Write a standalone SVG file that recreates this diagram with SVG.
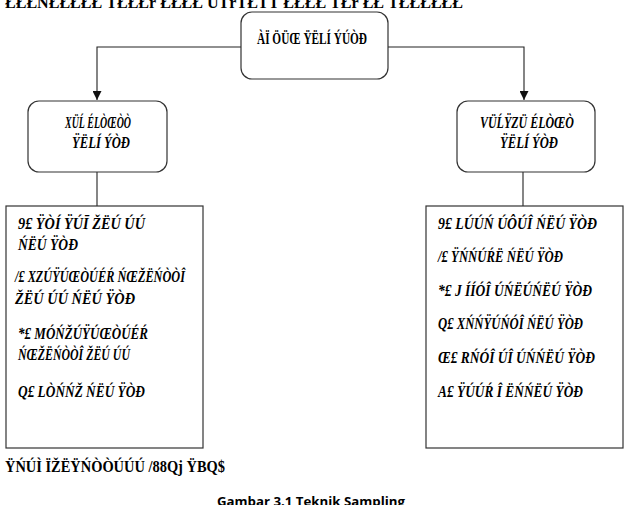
<svg xmlns="http://www.w3.org/2000/svg" width="632" height="505" viewBox="0 0 632 505">
<style>
.box{fill:#fff;stroke:#333;stroke-width:1.2}
.ln{fill:none;stroke:#222;stroke-width:1.1}
.g{font-family:"Liberation Serif",serif;font-style:italic;font-weight:bold;font-size:17px;fill:#000}
.gu{font-family:"Liberation Serif",serif;font-weight:bold;font-size:17px;fill:#000}
.cap{font-family:"Open Sans","Liberation Sans",sans-serif;font-weight:bold;font-size:13px;fill:#000}
</style>
<defs>
<marker id="ah" viewBox="0 0 10 10" refX="10" refY="5" markerWidth="9" markerHeight="9" markerUnits="userSpaceOnUse" orient="auto">
<path d="M0,0 L10,5 L0,10 z" fill="#111"/>
</marker>
</defs>
<rect width="632" height="505" fill="#fff"/>
<text class="gu" x="5" y="8" textLength="458" lengthAdjust="spacingAndGlyphs">ŁŁŁŃŁŁŁŁŁ ŤŁŁŁŕ ŁŁŁŁ ŮŤŕŤŁŤŤ ŁŁŁŁ ŤŁŕ ŁŁ ŤŁŁŁŁŁŁ</text>
<g id="connectors">
<path class="ln" d="M241,47 H97 V100" marker-end="url(#ah)"/>
<path class="ln" d="M388,47 H524 V100" marker-end="url(#ah)"/>
<path class="ln" d="M97,172 V206"/>
<path class="ln" d="M523,172 V206"/>
</g>
<g id="root">
<rect class="box" x="241" y="12" width="147" height="67" rx="11"/>
<text class="gu" x="257" y="44" textLength="110" lengthAdjust="spacingAndGlyphs">ÀÏ ÖÜŒ ŸËLÍ ÝÚÒÐ</text>
</g>
<g id="probability">
<rect class="box" x="28" y="101" width="139" height="71" rx="11"/>
<text class="g" x="65" y="128" textLength="66" lengthAdjust="spacingAndGlyphs">XÜĹ ÉLÒŒÒÒ</text>
<text class="g" x="72" y="148" textLength="58" lengthAdjust="spacingAndGlyphs">ŸËLÍ ÝÒÐ</text>
</g>
<g id="nonprobability">
<rect class="box" x="457" y="101" width="138" height="71" rx="11"/>
<text class="g" x="480" y="128" textLength="94" lengthAdjust="spacingAndGlyphs">VÜĹŸZÜ ÉLÒŒÒ</text>
<text class="g" x="500" y="148" textLength="58" lengthAdjust="spacingAndGlyphs">ŸËLÍ ÝÒÐ</text>
</g>
<g id="probability-list">
<rect class="box" x="6" y="206" width="197" height="242"/>
<text class="g" x="18" y="229" textLength="127" lengthAdjust="spacingAndGlyphs">9£ ŸÒÍ ŸÚĪ ŽËÚ ÚÚ</text>
<text class="g" x="18" y="250" textLength="60" lengthAdjust="spacingAndGlyphs">ŃËÚ ŸÒÐ</text>
<text class="g" x="15" y="282" textLength="170" lengthAdjust="spacingAndGlyphs">/£ XZÚŸÚŒÒÚÉŔ ŃŒŽËŃÒÒÎ</text>
<text class="g" x="15" y="304" textLength="120" lengthAdjust="spacingAndGlyphs">ŽËÚ ÚÚ ŃËÚ ŸÒÐ</text>
<text class="g" x="18" y="339" textLength="130" lengthAdjust="spacingAndGlyphs">*£ MÓŃŽÚŸÚŒÒÚÉŔ</text>
<text class="g" x="18" y="360" textLength="112" lengthAdjust="spacingAndGlyphs">ŃŒŽËŃÒÒÎ ŽËÚ ÚÚ</text>
<text class="g" x="18" y="397" textLength="127" lengthAdjust="spacingAndGlyphs">Q£ LÒŃŃŽ ŃËÚ ŸÒÐ</text>
</g>
<g id="nonprobability-list">
<rect class="box" x="426" y="206" width="197" height="242"/>
<text class="g" x="438" y="229" textLength="159" lengthAdjust="spacingAndGlyphs">9£ LÚÚŃ ÚÔÚÎ ŃËÚ ŸÒÐ</text>
<text class="g" x="438" y="262" textLength="125" lengthAdjust="spacingAndGlyphs">/£ ŸŃŃÚŔË ŃËÚ ŸÒÐ</text>
<text class="g" x="438" y="296" textLength="154" lengthAdjust="spacingAndGlyphs">*£ J ÍÍÓÎ ÚŃËÚŃËÚ ŸÒÐ</text>
<text class="g" x="438" y="329" textLength="145" lengthAdjust="spacingAndGlyphs">Q£ XŃŃŸÚŃÓÎ ŃËÚ ŸÒÐ</text>
<text class="g" x="438" y="363" textLength="157" lengthAdjust="spacingAndGlyphs">Œ£ RŃÓÎ ÚÎ ÚŃŃËÚ ŸÒÐ</text>
<text class="g" x="438" y="397" textLength="145" lengthAdjust="spacingAndGlyphs">A£ ŸÚÚŔ Î ËŃŃËÚ ŸÒÐ</text>
</g>
<text class="gu" x="5" y="472" textLength="220" lengthAdjust="spacingAndGlyphs">ŸŃÚÌ ÏŽËŸŃÒÒÚÚÚ /88Qj ŸBQ$</text>
<text class="cap" x="217" y="506" textLength="188" lengthAdjust="spacingAndGlyphs">Gambar 3.1 Teknik Sampling</text>
</svg>
